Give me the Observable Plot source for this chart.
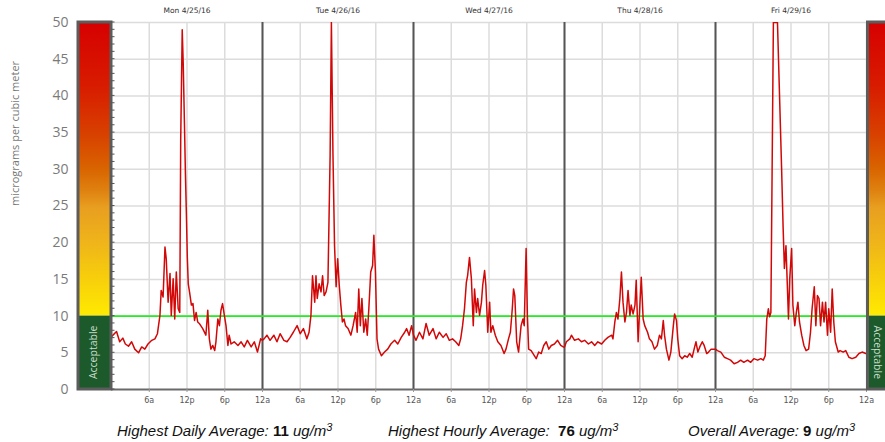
<!DOCTYPE html>
<html>
<head>
<meta charset="utf-8">
<script src="https://cdn.jsdelivr.net/npm/d3@7"></script>
<script src="https://cdn.jsdelivr.net/npm/@observablehq/plot@0.6"></script>
<style>
  body { margin: 0; background: #fff; }
  #wrap { position: relative; width: 885px; height: 442px; overflow: hidden; }
  .cap { position: absolute; top: 422px; font-family: "Liberation Sans", Arial, sans-serif; font-size: 15px; font-style: italic; color: #111; white-space: pre; }
  .cap b { font-style: normal; font-weight: bold; }
  .cap sup { font-size: 11px; vertical-align: 5px; line-height: 0; }
</style>
</head>
<body>
<div id="wrap"></div>
<script>
// ---------- data ----------
const dayLabels = ["Mon 4/25/16", "Tue 4/26/16", "Wed 4/27/16", "Thu 4/28/16", "Fri 4/29/16"];
const tickLabels = ["6a", "12p", "6p", "12a"];
const yTicks = [0, 5, 10, 15, 20, 25, 30, 35, 40, 45, 50];
const acceptableLimit = 10;
const yLabel = "micrograms per cubic meter";
const bandLabel = "Acceptable";
const statLabels = ["Highest Daily Average:", "Highest Hourly Average:", "Overall Average:"];
const statValues = [11, 76, 9];
const statUnit = "ug/m";

// hours since start of each day, and concentration readings
const monHours = [0,0.8,1.3,1.8,2.2,2.7,3.2,3.7,4.3,4.8,5.3,5.8,6.4,6.9,7.3,7.7,7.9,8.2,8.5,8.7,9.0,9.3,9.5,9.8,10.05,10.3,10.6,10.85,11.0,11.24,11.4,11.6,11.75,11.9,12.05,12.2,12.4,12.7,12.95,13.2,13.45,13.7,13.95,14.5,15.0,15.3,15.55,15.8,16.1,16.4,16.6,16.9,17.15,17.4,17.65,17.9,18.2,18.5,18.7,19.0,19.5,20.1,20.6,21.1,21.6,22.2,22.7,23.2,23.7];
const monValues = [7.2,7.9,6.5,7.0,6.2,5.9,6.5,5.5,5.0,5.8,5.5,6.2,6.7,6.9,7.6,10.1,13.5,12.6,19.4,17.8,11.9,15.8,10.1,15.1,9.6,16.0,11.0,10.5,34,49,44.4,36,29.4,24,18,14.4,13.3,11.5,11.7,9.4,10.5,9.2,9.0,8.3,7.4,10.8,6.9,5.5,6.0,5.3,6.5,9.6,8.7,10.8,11.7,10.3,8.7,6.0,7.4,6.2,6.5,6.0,6.5,5.8,6.7,5.8,6.5,5.1,6.9];

const tueHours = [0,0.25,0.7,1.2,1.8,2.3,2.8,3.4,3.9,4.4,4.9,5.5,6.0,6.5,7.05,7.4,7.7,7.95,8.3,8.5,8.7,9.0,9.3,9.55,9.8,10.1,10.4,10.75,10.95,11.2,11.45,11.7,11.95,12.2,12.45,12.7,12.95,13.2,13.6,14.05,14.4,14.8,15.05,15.3,15.55,15.8,16.1,16.4,16.65,16.9,17.2,17.5,17.7,17.95,18.2,18.45,18.9,19.4,19.9,20.4,21.0,21.5,22.05,22.6,22.9,23.3,23.7];
const tueValues = [6.7,6.9,7.4,6.7,7.4,6.5,7.6,6.7,6.5,7.1,7.8,8.7,7.6,8.3,6.9,7.8,10.1,15.5,11.9,15.5,12.4,14.4,13.3,15.5,12.8,13.3,14.6,32,50,32,19.6,14.0,17.8,14.2,11.5,9.2,9.6,8.7,8.3,7.4,8.7,10.5,7.8,13.7,8.7,12.4,7.8,9.6,7.4,11.0,16.0,16.9,21.0,16.0,6.9,5.5,4.6,5.1,5.5,6.2,6.7,6.2,7.1,7.8,8.3,7.4,8.7];

const wedHours = [0,0.4,0.95,1.5,2.0,2.5,3.1,3.6,4.1,4.7,5.2,5.7,6.2,6.7,7.2,7.5,7.8,8.1,8.4,8.6,8.9,9.2,9.5,9.7,10.0,10.2,10.5,10.8,11.0,11.3,11.5,11.8,12.1,12.3,12.6,13.0,13.4,13.9,14.4,14.7,15.1,15.4,15.7,15.9,16.1,16.4,16.7,17.1,17.4,17.6,17.9,18.1,18.3,18.7,19.0,19.5,19.9,20.3,20.7,21.1,21.5,21.9,22.4,22.9,23.4,23.8];
const wedValues = [7.4,6.7,7.8,6.9,9.0,7.4,8.3,6.9,7.8,7.1,7.6,6.7,6.9,6.5,6.0,6.9,8.7,11.0,14.6,15.5,18.0,15.1,8.7,13.7,10.5,12.4,10.1,11.9,14.2,16.2,14.2,7.8,11.9,7.8,8.7,7.4,6.5,6.0,4.9,5.5,6.9,7.8,11.0,13.7,12.8,6.5,5.1,8.7,9.6,8.7,19.2,10.1,5.5,5.3,4.9,4.2,5.1,4.9,6.0,6.5,5.5,6.0,6.2,6.7,6.0,5.8];

const thuHours = [0,0.3,0.85,1.1,1.6,2.2,2.7,3.2,3.8,4.3,4.8,5.3,5.9,6.4,6.9,7.5,7.7,8.0,8.25,8.5,8.8,9.05,9.3,9.6,9.85,10.1,10.4,10.6,10.9,11.2,11.4,11.7,11.95,12.2,12.5,12.75,13.2,13.5,13.9,14.3,14.75,15.1,15.4,15.7,15.9,16.2,16.6,16.9,17.3,17.5,17.8,18.0,18.3,18.7,19.1,19.5,19.9,20.3,20.6,20.9,21.2,21.5,21.9,22.2,22.6,22.9,23.3,23.75];
const thuValues = [5.8,6.5,6.9,7.4,6.7,6.9,6.5,6.7,6.2,6.5,6.0,6.5,6.2,6.7,7.1,7.4,6.9,9.2,10.5,9.6,12.4,16.0,11.9,9.2,10.5,13.5,10.1,11.5,10.3,11.5,14.9,6.5,11.0,15.3,9.6,8.7,7.8,6.9,6.5,5.5,6.0,7.4,6.9,9.4,7.4,5.5,4.0,5.1,8.7,10.3,9.4,6.9,4.6,4.2,4.6,4.4,4.9,4.4,5.5,6.5,5.1,5.8,6.5,6.0,4.9,5.1,5.5,5.5];

const friHours = [0,0.3,0.85,1.4,1.9,2.4,2.96,3.5,4.0,4.5,5.1,5.6,6.1,6.7,7.2,7.6,7.9,8.15,8.4,8.6,8.8,9.0,9.2,9.5,9.85,10.2,10.5,10.75,10.95,11.2,11.4,11.6,11.8,12.1,12.3,12.6,12.85,13.1,13.35,13.7,14.05,14.4,14.8,15.1,15.35,15.7,15.95,16.2,16.45,16.7,17.0,17.25,17.5,17.8,18.0,18.3,18.55,18.8,19.05,19.5,19.8,20.3,20.7,21.2,21.7,22.3,22.8,23.3,23.9];
const friValues = [5.5,5.3,5.1,4.4,4.2,4.0,3.5,3.7,4.0,3.7,4.0,3.7,4.2,4.0,4.2,4.0,4.6,9.6,11.0,9.9,10.5,30,50,50,50,39.4,30.3,22,16.5,19.6,14.6,9.6,15.1,19.2,11.5,8.7,10.5,11.9,9.2,7.4,6.0,5.3,5.5,7.8,11.0,14.0,8.7,12.8,12.4,8.7,11.9,9.2,11.9,7.4,11.0,7.8,13.7,9.2,6.5,5.1,5.3,5.1,5.3,4.4,4.2,4.4,4.9,5.1,4.9];

const dayHours = [monHours, tueHours, wedHours, thuHours, friHours];
const dayValues = [monValues, tueValues, wedValues, thuValues, friValues];

// ---------- build table ----------
const readings = dayHours.flatMap((hrs, i) => hrs.map((h, j) => ({t: i * 24 + h, v: dayValues[i][j]})));
const hourTicks = d3.range(6, dayLabels.length * 24 + 1, 6);
const dayStarts = d3.range(24, dayLabels.length * 24, 24);
const dayNoons = dayLabels.map((d, i) => ({label: d, t: i * 24 + 12}));

const chart = Plot.plot({
  width: 885,
  height: 410,
  marginLeft: 111,
  marginRight: 19,
  marginTop: 22,
  marginBottom: 21,
  style: {background: "#fff", fontFamily: "'DejaVu Sans', sans-serif", overflow: "visible"},
  x: {domain: [0, dayLabels.length * 24], axis: null, label: null},
  y: {domain: [0, 50], axis: null, label: null},
  marks: [
    Plot.gridY(yTicks.slice(1), {stroke: "#dcdcdc", strokeOpacity: 1, strokeWidth: 1.5}),
    Plot.gridX(hourTicks, {stroke: "#dcdcdc", strokeOpacity: 1, strokeWidth: 1.5}),
    Plot.ruleX(dayStarts, {stroke: "#555", strokeWidth: 2}),
    Plot.ruleY([acceptableLimit], {stroke: "#22ee22", strokeWidth: 1.7}),
    Plot.line(readings, {x: "t", y: "v", stroke: "#d20808", strokeWidth: 1.5, clip: true}),
    Plot.ruleY([0], {stroke: "#6a6a6a", strokeWidth: 2}),
    Plot.axisX(hourTicks, {
      label: null,
      tickFormat: (d, i) => tickLabels[i % tickLabels.length],
      tickSize: 3, tickPadding: 5, fontSize: 8, fill: "#555", stroke: "#999", strokeWidth: 1,
      fontFamily: "'DejaVu Sans', sans-serif"
    }),
    Plot.axisY(yTicks, {
      label: null,
      tickSize: 0, tickPadding: 43, fontSize: 14, fill: "#7a7a7a",
      fontFamily: "'Open Sans', sans-serif"
    }),
    Plot.text(dayNoons, {
      x: "t", y: () => 50, text: "label", dy: -12, fontSize: 7.5, fill: "#333",
      fontFamily: "'DejaVu Sans', sans-serif"
    }),
    Plot.text([yLabel], {
      frameAnchor: "left", dx: -96, rotate: -90, fontSize: 11, fill: "#777",
      fontFamily: "'Open Sans', sans-serif"
    })
  ]
});

document.getElementById("wrap").appendChild(chart);

// ---------- colour bands drawn from the scales ----------
const xs = chart.scale("x"), ys = chart.scale("y");
const svg = d3.select(chart);
const x0 = xs.apply(0), xEnd = xs.apply(dayLabels.length * 24);
const yTop = ys.apply(50), yLim = ys.apply(acceptableLimit), yBot = ys.apply(0);

const defs = svg.insert("defs", ":first-child");
const grad = defs.append("linearGradient").attr("id", "aqgrad")
  .attr("gradientUnits", "userSpaceOnUse").attr("x1", 0).attr("x2", 0)
  .attr("y1", yTop).attr("y2", yLim);
[[0, "#d60000"], [0.22, "#d81c00"], [0.38, "#d84000"], [0.5, "#d96400"], [0.58, "#df8412"],
 [0.63, "#e89e20"], [0.75, "#efb41a"], [0.87, "#f7ce0c"], [1, "#ffea00"]]
  .forEach(([o, c]) => grad.append("stop").attr("offset", o).attr("stop-color", c));

function band(xl, w, rot, tx) {
  const g = svg.append("g");
  g.append("rect").attr("x", xl).attr("y", yTop).attr("width", w).attr("height", yLim - yTop).attr("fill", "url(#aqgrad)");
  g.append("rect").attr("x", xl).attr("y", yLim).attr("width", w).attr("height", yBot - yLim).attr("fill", "#1c5a2c");
  g.append("rect").attr("x", xl).attr("y", yTop).attr("width", w).attr("height", yBot - yTop)
    .attr("fill", "none").attr("stroke", "#5c5c5c").attr("stroke-width", 3);
  const cy = (yLim + yBot) / 2;
  g.append("text").attr("transform", `translate(${tx},${cy}) rotate(${rot})`)
    .attr("text-anchor", "middle").attr("dominant-baseline", "middle")
    .attr("fill", "#c8dcc8").attr("font-size", 10.5).attr("font-family", "'Open Sans', sans-serif")
    .text(bandLabel);
}
band(x0 - 33, 33, -90, x0 - 17);
band(xEnd + 1.5, 40, 90, xEnd + 11);

// minor ticks on the left edge
svg.append("g").selectAll("line").data(d3.range(0, 51)).join("line")
  .attr("x1", x0).attr("x2", x0 + 3.5)
  .attr("y1", d => ys.apply(d)).attr("y2", d => ys.apply(d))
  .attr("stroke", "#555").attr("stroke-width", 1);

// ---------- caption ----------
const capLeft = [117, 388, 688];
const gaps = [" ", "  ", " "];
statLabels.forEach((lab, i) => {
  const div = document.createElement("div");
  div.className = "cap";
  div.style.left = capLeft[i] + "px";
  div.innerHTML = `${lab}${gaps[i]}<b>${statValues[i]}</b> ${statUnit}<sup>3</sup>`;
  document.getElementById("wrap").appendChild(div);
});
</script>
</body>
</html>
